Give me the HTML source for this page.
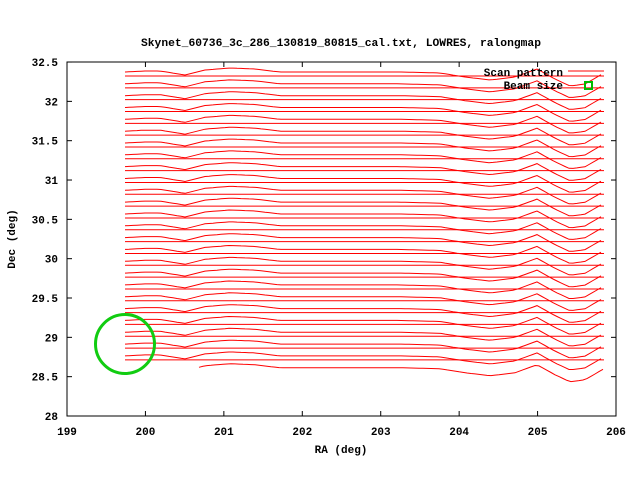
<!DOCTYPE html>
<html><head><meta charset="utf-8"><style>
body{margin:0;background:#fff}
svg{display:block}
text{font-family:"Liberation Mono",monospace;font-size:11px;font-weight:bold;fill:#000}
</style></head><body>
<svg id="s" width="640" height="480" xmlns="http://www.w3.org/2000/svg">
<rect width="640" height="480" fill="#fff"/>
<text x="341" y="46" text-anchor="middle" style="font-size:11.3px">Skynet_60736_3c_286_130819_80815_cal.txt, LOWRES, ralongmap</text>
<g id="plot"></g>
<rect x="67" y="62" width="549" height="354" fill="none" stroke="#000" stroke-width="1"/>
<g id="ticks" stroke="#000"></g>
<g id="labels"></g>
<text x="341" y="453" text-anchor="middle">RA (deg)</text>
<text transform="translate(15,239) rotate(-90)" text-anchor="middle">Dec (deg)</text>
<text x="563" y="76" text-anchor="end">Scan pattern</text>
<line x1="568" y1="71" x2="604" y2="71" stroke="#f00"/>
<text x="563" y="89" text-anchor="end">Beam size</text>
<rect x="585" y="82" width="7" height="7" fill="none" stroke="#0b0" stroke-width="2"/>
<circle cx="125" cy="344" r="29.5" fill="none" stroke="#1c1" stroke-width="3"/>
</svg>
<script>
var ns="http://www.w3.org/2000/svg",P=document.getElementById("plot"),T=document.getElementById("ticks"),L=document.getElementById("labels");
function el(p,n,a,t){var e=document.createElementNS(ns,n);for(var k in a)e.setAttribute(k,a[k]);if(t!=null)e.textContent=t;p.appendChild(e);return e;}
for(var i=0;i<=7;i++){var x=67+i*78.43;el(T,"line",{x1:x,y1:416,x2:x,y2:411});el(T,"line",{x1:x,y1:62,x2:x,y2:67});el(L,"text",{x:x,y:435,"text-anchor":"middle"},String(199+i));}
var yl=["28","28.5","29","29.5","30","30.5","31","31.5","32","32.5"];
for(var i=0;i<=9;i++){var y=416-i*39.33;el(T,"line",{x1:67,y1:y,x2:72,y2:y});el(T,"line",{x1:616,y1:y,x2:611,y2:y});el(L,"text",{x:58,y:y+4,"text-anchor":"end"},yl[i]);}
var f=[[125,-4],[145,-5],[160,-5],[185,-1],[205,-6],[230,-8],[255,-7],[280,-4],[330,-4],[400,-4],[440,-3],[465,1],[490,4],[515,1],[537,-7],[555,3],[570,10],[585,8],[604,-3]];
function F(x){for(var k=0;k<f.length-1;k++){if(x<=f[k+1][0]){var t=(x-f[k][0])/(f[k+1][0]-f[k][0]);return f[k][1]+t*(f[k+1][1]-f[k][1]);}}return f[f.length-1][1];}
for(var j=0;j<25;j++){var y=76+11.83*j;el(P,"line",{x1:125,y1:y,x2:604,y2:y,stroke:"#f00"});}
for(var j=0;j<26;j++){var b=76+11.83*j,pts=[],x0=j==25?199:125;for(var x=x0;x<=604;x+=4){pts.push(x+","+(b+F(x)).toFixed(1));}
el(P,"polyline",{points:pts.join(" "),fill:"none",stroke:"#f00"});}
</script>
</body></html>
